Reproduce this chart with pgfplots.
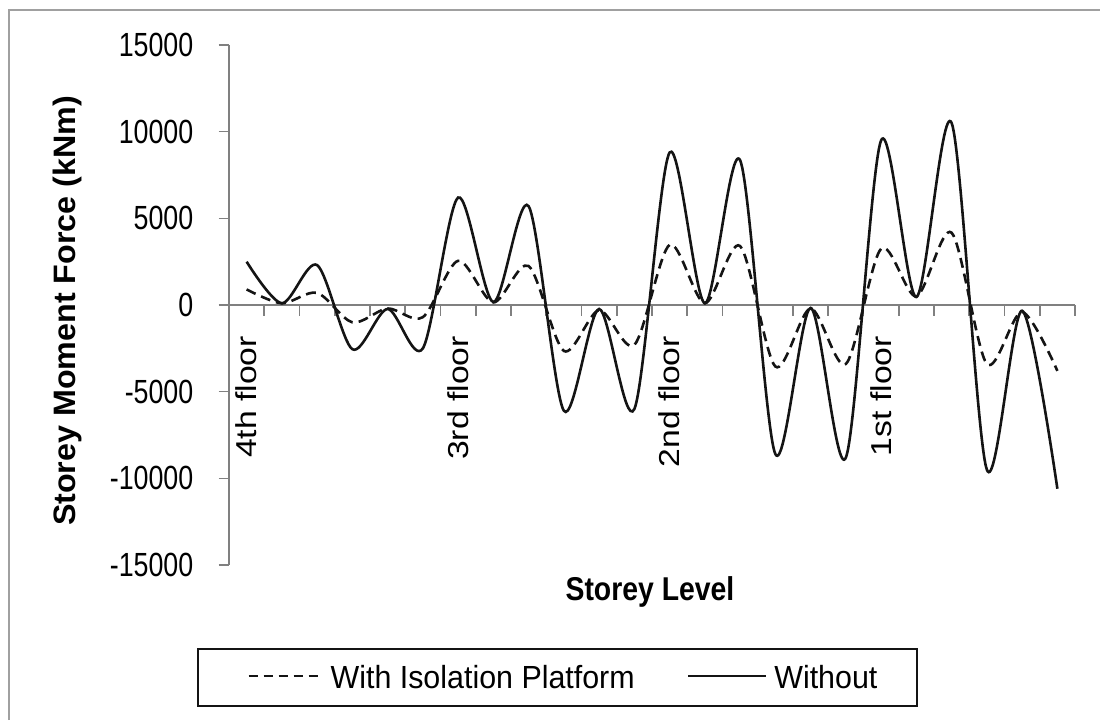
\documentclass[border=0pt]{standalone}
\usepackage{fontspec}
\setmainfont{Liberation Sans}
\newfontfamily\tickfont[FakeStretch=0.8]{Liberation Sans}
\newfontfamily\floorfont[FakeStretch=1.17]{Liberation Sans}
\newfontfamily\xtitlefont[FakeStretch=0.86]{Liberation Sans}
\newfontfamily\ytitlefont[FakeStretch=1.04]{Liberation Sans}
\newfontfamily\legfont[FakeStretch=0.95]{Liberation Sans}
\usepackage{pgfplots}
\pgfplotsset{compat=1.18}
\definecolor{axgray}{RGB}{128,128,128}
\definecolor{linedark}{RGB}{20,20,20}
\pgfplotsset{
  dashleg/.style={legend image code/.code={\path[draw=none,fill=none] (0pt,0pt) rectangle (11pt,0.1pt); \draw[color=linedark, line width=2.6pt, dash pattern=on 9pt off 6pt] (11pt,1.5pt) -- (80pt,1.5pt); \path[draw=none,fill=none] (80pt,0pt) rectangle (85pt,0.1pt);}},
  solidleg/.style={legend image code/.code={\draw[color=linedark, line width=2.6pt, solid] (0pt,1.5pt) -- (78pt,1.5pt);}},
}
\begin{document}
\begin{tikzpicture}
\path[use as bounding box] (0pt,0pt) rectangle (1100pt,-720pt);
\draw[color=axgray!75, line width=2pt] (9pt,-720pt) -- (9pt,-10pt) -- (1100pt,-10pt);
\begin{axis}[
  at={(229pt,-565pt)}, anchor=south west,
  width=846pt, height=520pt, scale only axis,
  xmin=-0.5, xmax=23.5, ymin=-15000, ymax=15000,
  axis x line=middle, axis y line=left,
  every inner x axis line/.append style={-},
  every outer x axis line/.append style={-},
  every inner y axis line/.append style={-},
  every outer y axis line/.append style={-},
  axis line style={-, color=axgray, line width=1.6pt},
  xtick={-0.5,0.5,...,23.5}, xticklabels={},
  scaled y ticks=false, scaled x ticks=false,
  ytick={-15000,-10000,-5000,0,5000,10000,15000},
  yticklabels={-15000,-10000,-5000,0,5000,10000,15000},
  tick align=outside, major tick length=10.5pt,
  tick style={color=axgray, line width=1.6pt},
  yticklabel style={font=\tickfont\fontsize{33.5}{36}\selectfont, inner sep=0pt, anchor=east, xshift=-25pt},
  xlabel={Storey Level},
  xlabel style={at={(axis description cs:0.4976,-0.0692)}, anchor=base, inner sep=0pt, font=\xtitlefont\bfseries\fontsize{33}{36}\selectfont},
  ylabel={Storey Moment Force (kNm)},
  ylabel style={at={(axis description cs:-0.1809,0.4885)}, anchor=base, inner sep=0pt, font=\ytitlefont\bfseries\fontsize{31}{34}\selectfont},
  legend columns=2,
  legend cell align=left,
  legend style={at={(0.3883,-0.2163)}, anchor=center, draw=linedark, line width=2pt,
    inner xsep=40pt, inner ysep=15.8pt,
    font=\legfont\fontsize{32}{34}\selectfont,
    nodes={inner sep=0pt},
    /tikz/column 1/.style={column sep=8pt},
    /tikz/column 2/.style={column sep=52pt},
    /tikz/column 3/.style={column sep=7pt}},
]
\addplot[smooth, tension=0.5, color=linedark, line width=2.6pt, dash pattern=on 10pt off 6pt, dashleg]
  coordinates {
  (0,900) (1,100) (2,700) (3,-1000) (4,-200) (5,-700)
  (6,2550) (7,150) (8,2250) (9,-2650) (10,-300) (11,-2300)
  (12,3470) (13,100) (14,3400) (15,-3550) (16,-200) (17,-3400)
  (18,3250) (19,500) (20,4170) (21,-3400) (22,-400) (23,-3800)
  };
\addlegendentry{With Isolation Platform}
\addplot[smooth, tension=0.5, color=linedark, line width=2.6pt, solid, solidleg]
  coordinates {
  (0,2500) (1,100) (2,2300) (3,-2550) (4,-230) (5,-2500)
  (6,6200) (7,170) (8,5700) (9,-6100) (10,-230) (11,-6000)
  (12,8800) (13,100) (14,8350) (15,-8600) (16,-170) (17,-8800)
  (18,9500) (19,460) (20,10500) (21,-9500) (22,-330) (23,-10600)
  };
\addlegendentry{Without}
\node[rotate=90, anchor=east, inner sep=0pt, font=\floorfont\fontsize{28.8}{30}\selectfont] at ([yshift=-31pt]axis cs:0,0) {4th floor};
\node[rotate=90, anchor=east, inner sep=0pt, font=\floorfont\fontsize{28.8}{30}\selectfont] at ([yshift=-31pt]axis cs:6,0) {3rd floor};
\node[rotate=90, anchor=east, inner sep=0pt, font=\floorfont\fontsize{28.8}{30}\selectfont] at ([yshift=-31pt]axis cs:12,0) {2nd floor};
\node[rotate=90, anchor=east, inner sep=0pt, font=\floorfont\fontsize{28.8}{30}\selectfont] at ([yshift=-31pt]axis cs:18,0) {1st floor};
\end{axis}
\end{tikzpicture}
\end{document}
